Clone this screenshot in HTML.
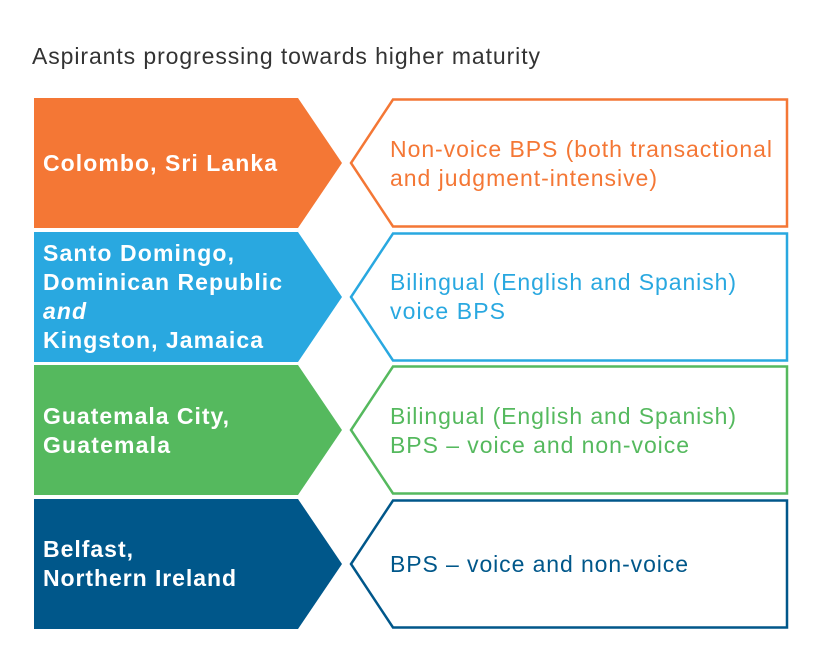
<!DOCTYPE html>
<html><head><meta charset="utf-8"><style>
html,body{margin:0;padding:0;background:#fff;width:813px;height:671px;overflow:hidden}
svg{display:block}
text{font-family:"Liberation Sans",Arial,sans-serif}
.l{fill:#fff;font-weight:bold;font-size:23px}
.r{font-size:23px}
</style></head><body>
<svg width="813" height="671" viewBox="0 0 813 671">
<text x="32" y="64" font-size="23" fill="#333" textLength="508" lengthAdjust="spacing">Aspirants progressing towards higher maturity</text>

<polygon points="34,98 298,98 342,163 298,228 34,228" fill="#F47735"/>
<polygon points="393,99.5 787,99.5 787,226.5 393,226.5 351,163" fill="none" stroke="#F47735" stroke-width="2.5"/>
<text class="l" x="43" y="171" textLength="234" lengthAdjust="spacing">Colombo, Sri Lanka</text>
<text class="r" fill="#F47735" x="390" y="157" textLength="382" lengthAdjust="spacing">Non-voice BPS (both transactional</text>
<text class="r" fill="#F47735" x="390" y="186" textLength="267" lengthAdjust="spacing">and judgment-intensive)</text>

<polygon points="34,232 298,232 342,297 298,362 34,362" fill="#29A8E0"/>
<polygon points="393,233.5 787,233.5 787,360.5 393,360.5 351,297" fill="none" stroke="#29A8E0" stroke-width="2.5"/>
<text class="l" x="43" y="261" textLength="191" lengthAdjust="spacing">Santo Domingo,</text>
<text class="l" x="43" y="290" textLength="239" lengthAdjust="spacing">Dominican Republic</text>
<text class="l" x="43" y="319" font-style="italic" font-weight="normal" textLength="43" lengthAdjust="spacing">and</text>
<text class="l" x="43" y="348" textLength="220" lengthAdjust="spacing">Kingston, Jamaica</text>
<text class="r" fill="#29A8E0" x="390" y="290" textLength="346" lengthAdjust="spacing">Bilingual (English and Spanish)</text>
<text class="r" fill="#29A8E0" x="390" y="319" textLength="115" lengthAdjust="spacing">voice BPS</text>

<polygon points="34,365 298,365 342,430 298,495 34,495" fill="#55B95E"/>
<polygon points="393,366.5 787,366.5 787,493.5 393,493.5 351,430" fill="none" stroke="#55B95E" stroke-width="2.5"/>
<text class="l" x="43" y="424" textLength="186" lengthAdjust="spacing">Guatemala City,</text>
<text class="l" x="43" y="453" textLength="127" lengthAdjust="spacing">Guatemala</text>
<text class="r" fill="#55B95E" x="390" y="424" textLength="346" lengthAdjust="spacing">Bilingual (English and Spanish)</text>
<text class="r" fill="#55B95E" x="390" y="453" textLength="299" lengthAdjust="spacing">BPS – voice and non-voice</text>

<polygon points="34,499 298,499 342,564 298,629 34,629" fill="#00578A"/>
<polygon points="393,500.5 787,500.5 787,627.5 393,627.5 351,564" fill="none" stroke="#00578A" stroke-width="2.5"/>
<text class="l" x="43" y="557" textLength="90" lengthAdjust="spacing">Belfast,</text>
<text class="l" x="43" y="586" textLength="193" lengthAdjust="spacing">Northern Ireland</text>
<text class="r" fill="#00578A" x="390" y="572" textLength="298" lengthAdjust="spacing">BPS – voice and non-voice</text>
</svg>
</body></html>
